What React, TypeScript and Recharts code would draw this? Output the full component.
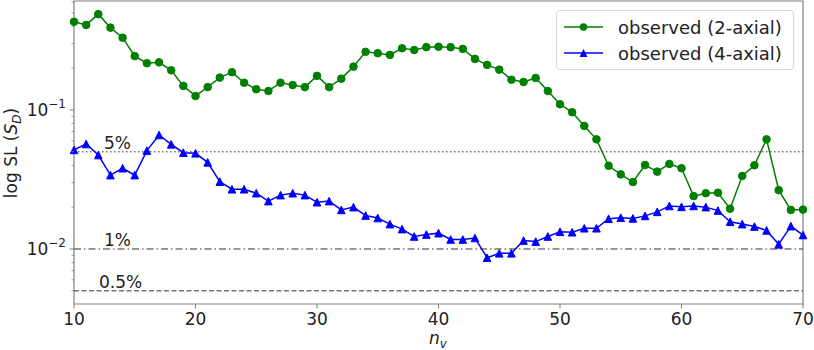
import React from 'react';
import {
  LineChart,
  Line,
  XAxis,
  YAxis,
  ReferenceLine,
  ReferenceArea,
} from 'recharts';

const nv = [
  10, 11, 12, 13, 14, 15, 16, 17, 18, 19, 20, 21, 22, 23, 24, 25, 26, 27, 28, 29, 30,
  31, 32, 33, 34, 35, 36, 37, 38, 39, 40, 41, 42, 43, 44, 45, 46, 47, 48, 49, 50,
  51, 52, 53, 54, 55, 56, 57, 58, 59, 60, 61, 62, 63, 64, 65, 66, 67, 68, 69, 70,
];

const biaxial = [
  0.431, 0.409, 0.489, 0.391, 0.331, 0.244, 0.217, 0.22, 0.193, 0.149, 0.126,
  0.146, 0.171, 0.187, 0.157, 0.141, 0.137, 0.157, 0.151, 0.146, 0.176,
  0.146, 0.168, 0.205, 0.262, 0.256, 0.249, 0.278, 0.27, 0.283, 0.285,
  0.283, 0.275, 0.233, 0.211, 0.195, 0.165, 0.159, 0.17, 0.137, 0.11,
  0.0963, 0.0767, 0.0615, 0.0397, 0.0344, 0.0303, 0.0402, 0.036, 0.0409, 0.0381,
  0.024, 0.0252, 0.0254, 0.0195, 0.0335, 0.04, 0.0615, 0.0265, 0.0191, 0.0192,
];

const quadaxial = [
  0.0516, 0.0569, 0.0474, 0.034, 0.0381, 0.034, 0.051, 0.0661, 0.0566, 0.0493, 0.0488,
  0.042, 0.0305, 0.0269, 0.0269, 0.0252, 0.0221, 0.0244, 0.0252, 0.0244, 0.0217,
  0.0221, 0.0191, 0.02, 0.0174, 0.0167, 0.0151, 0.0139, 0.0123, 0.0127, 0.013,
  0.0117, 0.0117, 0.012, 0.00865, 0.00931, 0.00931, 0.0115, 0.0113, 0.0123, 0.0133,
  0.0132, 0.0141, 0.0141, 0.0165, 0.0168, 0.0166, 0.0173, 0.0185, 0.0204, 0.0201,
  0.0204, 0.02, 0.0189, 0.0157, 0.0151, 0.0145, 0.0136, 0.0108, 0.0146, 0.0126,
];

const xTicks = [10, 20, 30, 40, 50, 60, 70];
const yMajor = [0.01, 0.1];
const yMinor = [
  0.005, 0.006, 0.007, 0.008, 0.009,
  0.02, 0.03, 0.04, 0.05, 0.06, 0.07, 0.08, 0.09,
  0.2, 0.3, 0.4, 0.5, 0.6,
];
const levels = [
  { y: 0.05, label: '5%', dash: '1.5 2.5' },
  { y: 0.01, label: '1%', dash: '7 3 1.5 3' },
  { y: 0.005, label: '0.5%', dash: '5 2.5' },
];

const data = nv.map((x, i) => ({ x, g: biaxial[i], b: quadaxial[i] }));

const FONT = 'DejaVu Sans';
const AXIS = '#808080';
const PLOT_LEFT = 74;
const PLOT_BOTTOM = 304;

const YTick = (props: any) => {
  const { y, payload } = props;
  const x = PLOT_LEFT;
  const v = payload.value;
  const major = yMajor.some((m) => Math.abs(m - v) < 1e-9);
  if (!major) {
    return <line x1={x} x2={x - 2.5} y1={y} y2={y} stroke={AXIS} strokeWidth={0.8} />;
  }
  const exp = Math.round(Math.log10(v));
  return (
    <g>
      <line x1={x} x2={x - 4.5} y1={y} y2={y} stroke={AXIS} strokeWidth={1} />
      <text x={x - 8} y={y + 6} textAnchor="end" fontFamily={FONT} fontSize={17} fill="#222">
        10
        <tspan dy={-8} fontSize={12}>{'\u2212' + Math.abs(exp)}</tspan>
      </text>
    </g>
  );
};

const XTick = (props: any) => {
  const { x, payload } = props;
  const y = PLOT_BOTTOM;
  return (
    <g>
      <line x1={x} x2={x} y1={y} y2={y + 4.5} stroke={AXIS} strokeWidth={1} />
      <text x={x} y={y + 21} textAnchor="middle" fontFamily={FONT} fontSize={17} fill="#222">
        {payload.value}
      </text>
    </g>
  );
};

const Circle = (props: any) => {
  const { cx, cy, index } = props;
  return <circle key={index} cx={cx} cy={cy} r={3.8} fill="#008000" stroke="#008000" />;
};

const Triangle = (props: any) => {
  const { cx, cy, index } = props;
  const s = 3.8;
  return (
    <polygon
      key={index}
      points={`${cx},${cy - s} ${cx - s},${cy + s} ${cx + s},${cy + s}`}
      fill="#0000ff"
      stroke="#0000ff"
    />
  );
};

const LegendBox = () => (
  <div
    style={{
      position: 'absolute',
      left: 556,
      top: 10,
      boxSizing: 'border-box',
      border: '1px solid #d6d6d6',
      borderRadius: 4,
      background: 'rgba(255,255,255,0.8)',
      padding: '3px 0 3px 7px',
      width: 238,
      height: 60,
      fontFamily: FONT,
      fontSize: 18,
      color: '#222',
    }}
  >
    {[
      { name: 'observed (2-axial)', color: '#008000', tri: false },
      { name: 'observed (4-axial)', color: '#0000ff', tri: true },
    ].map((it) => (
      <div key={it.name} style={{ display: 'flex', alignItems: 'center', height: 26 }}>
        <svg width={40} height={14} style={{ marginRight: 14 }}>
          <line x1={0} x2={39} y1={7} y2={7} stroke={it.color} strokeWidth={1.5} />
          {it.tri ? (
            <polygon points="19.5,3 15.5,11 23.5,11" fill={it.color} />
          ) : (
            <circle cx={19.5} cy={7} r={3.8} fill={it.color} />
          )}
        </svg>
        <span>{it.name}</span>
      </div>
    ))}
  </div>
);

export default function App() {
  return (
    <div style={{ position: 'absolute', left: 0, top: 0, width: 814, height: 350, background: '#fff' }}>
      <LineChart width={814} height={350} data={data} margin={{ top: 1, right: 11, bottom: 0, left: 0 }}>
        <XAxis
          dataKey="x"
          type="number"
          domain={[10, 70]}
          ticks={xTicks}
          height={46}
          axisLine={false}
          tickLine={false}
          tickSize={0}
          tickMargin={0}
          tick={<XTick />}
          interval={0}
          label={() => (
            <text x={438} y={344} textAnchor="middle" fontFamily={FONT} fontSize={17} fill="#222" fontStyle="italic">
              n
              <tspan dy={4} fontSize={12}>v</tspan>
            </text>
          )}
        />
        <YAxis
          scale="log"
          domain={[0.00402, 0.608]}
          allowDataOverflow
          ticks={[...yMinor, ...yMajor].sort((a, b) => a - b)}
          width={74}
          axisLine={false}
          tickLine={false}
          tickSize={0}
          tickMargin={0}
          tick={<YTick />}
          interval={0}
          label={() => (
            <text
              transform="translate(17,153) rotate(-90)"
              textAnchor="middle"
              fontFamily={FONT}
              fontSize={17}
              fill="#222"
            >
              log SL (<tspan fontStyle="italic">S</tspan>
              <tspan dy={4} fontSize={12} fontStyle="italic">D</tspan>
              <tspan dy={-4}>)</tspan>
            </text>
          )}
        />
        {levels.map((l) => (
          <ReferenceLine
            key={l.label}
            y={l.y}
            stroke="#333"
            strokeWidth={1}
            strokeDasharray={l.dash}
            label={(p: any) => (
              <text
                x={p.viewBox.x + (l.label === '0.5%' ? 25 : 30)}
                y={p.viewBox.y - 3}
                fontFamily={FONT}
                fontSize={17}
                fill="#222"
              >
                {l.label}
              </text>
            )}
          />
        ))}
        <ReferenceArea x1={10} x2={70} y1={0.00402} y2={0.608} fill="none" stroke={AXIS} strokeWidth={1.2} />
        <Line
          dataKey="g"
          stroke="#008000"
          strokeWidth={1.5}
          dot={<Circle />}
          activeDot={false}
          isAnimationActive={false}
        />
        <Line
          dataKey="b"
          stroke="#0000ff"
          strokeWidth={1.5}
          dot={<Triangle />}
          activeDot={false}
          isAnimationActive={false}
        />
      </LineChart>
      <LegendBox />
    </div>
  );
}
